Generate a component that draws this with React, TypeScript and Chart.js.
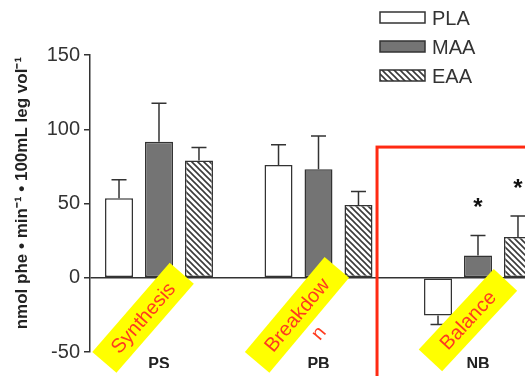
import { useEffect, useRef } from 'react';
import { Chart, registerables } from 'chart.js';

Chart.register(...registerables);

// ---- data ----
const categories = ['PS', 'PB', 'NB'];
const groupPositions = [0, 1, 2];
const seriesNames = ['PLA', 'MAA', 'EAA'];
const plaValues = [53.5, 76, -25.5];
const plaErrors = [12.5, 13.5, 6];
const maaValues = [91.5, 73, 15];
const maaErrors = [26, 22.5, 13.5];
const eaaValues = [79, 49, 27.5];
const eaaErrors = [8.7, 9, 14];
const yTickValues = [-50, 0, 50, 100, 150];
const yTitle = 'nmol phe • min⁻¹ • 100mL leg vol⁻¹';
const starredCategory = 2;
const starredSeries = [1, 2];

// ---- annotations (in data units) ----
const labelBoxes = [
  { text: 'Synthesis', extra: '', x: -0.1, y: -27, length: 118, angle: -49 },
  { text: 'Breakdow', extra: 'n', x: 0.865, y: -25, length: 124, angle: -50 },
  { text: 'Balance', extra: '', x: 1.937, y: -28.5, length: 110, angle: -47 },
];
const redBoxCorner = { x: 1.367, y: 88 };
const starOffset = 22;
const titleCenterValue = 57;

const FONT = '"Liberation Sans", Arial, Helvetica, sans-serif';
const EDGE = '#333333';
const GREY_FILL = '#747474';

function makeHatch(): CanvasPattern | string {
  const c = document.createElement('canvas');
  c.width = 6;
  c.height = 6;
  const g = c.getContext('2d');
  if (!g) return '#ccc';
  g.fillStyle = '#ffffff';
  g.fillRect(0, 0, 6, 6);
  g.strokeStyle = '#3a3a3a';
  g.lineWidth = 1.6;
  g.beginPath();
  g.moveTo(-1, -1); g.lineTo(7, 7);
  g.moveTo(-1, 5); g.lineTo(1, 7);
  g.moveTo(5, -1); g.lineTo(7, 1);
  g.stroke();
  const p = g.createPattern(c, 'repeat');
  return p || '#ccc';
}

export default function App() {
  const ref = useRef<HTMLCanvasElement | null>(null);

  useEffect(() => {
    const prevMargin = document.body.style.margin;
    document.body.style.margin = '0';
    const canvas = ref.current;
    if (!canvas) return;
    const hatch = makeHatch();
    const values = [plaValues, maaValues, eaaValues];
    const errors = [plaErrors, maaErrors, eaaErrors];
    const fills: any[] = ['#ffffff', GREY_FILL, hatch];

    const overlay = {
      id: 'overlay',
      afterDatasetsDraw(chart: any) {
        const ctx = chart.ctx;
        const ys = chart.scales.y;
        ctx.save();
        ctx.strokeStyle = EDGE;
        ctx.lineWidth = 1.5;
        chart.data.datasets.forEach((_ds: any, di: number) => {
          const meta = chart.getDatasetMeta(di);
          meta.data.forEach((bar: any, i: number) => {
            const v = values[di][i];
            const e = errors[di][i];
            const end = v >= 0 ? v + e : v - e;
            const y0 = ys.getPixelForValue(v);
            const y1 = ys.getPixelForValue(end);
            ctx.beginPath();
            ctx.moveTo(bar.x, y0);
            ctx.lineTo(bar.x, y1);
            ctx.moveTo(bar.x - 7.5, y1);
            ctx.lineTo(bar.x + 7.5, y1);
            ctx.stroke();
          });
        });
        // stars
        ctx.fillStyle = '#111';
        ctx.font = `bold 24px ${FONT}`;
        ctx.textAlign = 'center';
        ctx.textBaseline = 'middle';
        starredSeries.forEach((di) => {
          const bar = chart.getDatasetMeta(di).data[starredCategory];
          const v = values[di][starredCategory] + errors[di][starredCategory] + starOffset;
          ctx.fillText('*', bar.x, ys.getPixelForValue(v) + 6);
        });
        ctx.restore();
      },
      afterDraw(chart: any) {
        const ctx = chart.ctx;
        const xs = chart.scales.x;
        const ys = chart.scales.y;
        ctx.save();
        // y-axis title
        ctx.save();
        ctx.translate(22, ys.getPixelForValue(titleCenterValue));
        ctx.rotate(-Math.PI / 2);
        ctx.fillStyle = '#222';
        ctx.font = `bold 17px ${FONT}`;
        ctx.textAlign = 'center';
        ctx.textBaseline = 'middle';
        ctx.fillText(yTitle, 0, 0);
        ctx.restore();
        // red box
        ctx.strokeStyle = '#ff2a12';
        ctx.lineWidth = 3;
        const rx = xs.getPixelForValue(redBoxCorner.x);
        const ry = ys.getPixelForValue(redBoxCorner.y);
        ctx.strokeRect(rx, ry, 400, 400);
        // yellow labels
        labelBoxes.forEach((b) => {
          const cx = xs.getPixelForValue(b.x);
          const cy = ys.getPixelForValue(b.y);
          ctx.save();
          ctx.translate(cx, cy);
          ctx.rotate((b.angle * Math.PI) / 180);
          ctx.fillStyle = '#ffff00';
          ctx.fillRect(-b.length / 2, -16, b.length, 32);
          ctx.fillStyle = '#ff3b1f';
          ctx.font = `20px ${FONT}`;
          ctx.textAlign = 'center';
          ctx.textBaseline = 'middle';
          ctx.fillText(b.text, 0, 1);
          if (b.extra) ctx.fillText(b.extra, 0, 29);
          ctx.restore();
        });
        // legend
        const lx = 380;
        const ly = [12, 41, 70];
        seriesNames.forEach((name, i) => {
          ctx.fillStyle = fills[i];
          ctx.fillRect(lx, ly[i], 45, 11);
          ctx.strokeStyle = EDGE;
          ctx.lineWidth = 1.5;
          ctx.strokeRect(lx, ly[i], 45, 11);
          ctx.fillStyle = '#333';
          ctx.font = `20px ${FONT}`;
          ctx.textAlign = 'left';
          ctx.textBaseline = 'middle';
          ctx.fillText(name, lx + 52, ly[i] + 7);
        });
        ctx.restore();
      },
    };

    const datasets = seriesNames.map((name, di) => ({
      label: name,
      data: groupPositions.map((x, i) => ({ x, y: values[di][i] })),
      backgroundColor: fills[di],
      borderColor: EDGE,
      borderWidth: 1.5,
      borderSkipped: false as const,
      categoryPercentage: 0.752,
      barPercentage: 0.7,
    }));

    const chart = new Chart(canvas, {
      type: 'bar',
      data: { datasets },
      plugins: [overlay],
      options: {
        animation: false,
        responsive: false,
        devicePixelRatio: 1,
        layout: { padding: { top: 55, right: 0, bottom: 8, left: 0 } },
        plugins: { legend: { display: false }, tooltip: { enabled: false } },
        scales: {
          x: {
            type: 'linear',
            offset: false,
            min: -0.4326,
            max: 2.2947,
            grid: { display: false, drawTicks: false, offset: false },
            border: { display: false },
            afterBuildTicks: (s: any) => {
              s.ticks = groupPositions.map((v) => ({ value: v }));
            },
            afterFit: (s: any) => {
              s.height = 16;
              s.paddingLeft = 0;
              s.paddingRight = 0;
            },
            ticks: {
              padding: 3,
              color: '#222',
              font: { family: FONT, size: 16, weight: 'bold' },
              callback: (v: any) => categories[groupPositions.indexOf(Number(v))] ?? '',
            },
          },
          y: {
            min: -50,
            max: 150,
            afterBuildTicks: (s: any) => {
              s.ticks = yTickValues.map((v) => ({ value: v }));
            },
            afterFit: (s: any) => {
              s.width = 90;
            },
            border: { color: EDGE, width: 1.5 },
            grid: {
              lineWidth: 1.5,
              color: (c: any) => (c.tick && c.tick.value === 0 ? EDGE : 'rgba(0,0,0,0)'),
              tickColor: EDGE,
              tickLength: 6,
              drawTicks: true,
            },
            ticks: {
              padding: 4,
              color: '#333',
              font: { family: FONT, size: 20 },
            },
          },
        },
      },
    });
    return () => {
      chart.destroy();
      document.body.style.margin = prevMargin;
    };
  }, []);

  return (
    <div style={{ width: 525, height: 376, overflow: 'hidden' }}>
      <canvas ref={ref} width={525} height={376} style={{ display: 'block' }} />
    </div>
  );
}
